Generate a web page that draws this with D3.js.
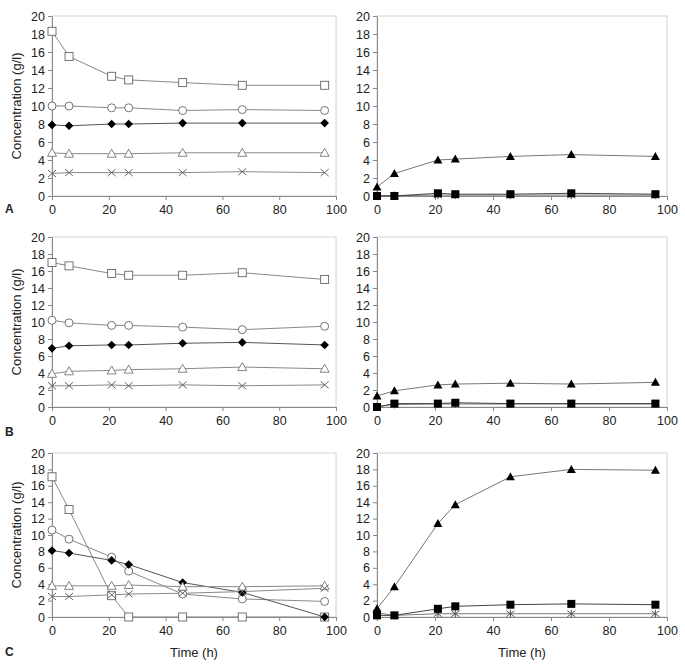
<!DOCTYPE html>
<html>
<head>
<meta charset="utf-8">
<script src="https://cdn.jsdelivr.net/npm/d3@7"></script>
<style>
  body { margin: 0; background: #fff; }
  text { font-family: "Liberation Sans", Arial, sans-serif; }
</style>
</head>
<body>
<svg id="chart" width="685" height="666"></svg>
<script>
// sampling times (h)
let times = [0, 6, 21, 27, 46, 67, 96];
let xTicks = [0, 20, 40, 60, 80, 100];
let yTicks = [0, 2, 4, 6, 8, 10, 12, 14, 16, 18, 20];

// panel A, left
let aSquare   = [18.3, 15.5, 13.3, 12.9, 12.6, 12.3, 12.3];
let aCircle   = [10.0, 10.0, 9.8, 9.8, 9.5, 9.6, 9.5];
let aDiamond  = [7.9, 7.8, 8.0, 8.0, 8.1, 8.1, 8.1];
let aTriangle = [4.8, 4.7, 4.7, 4.7, 4.8, 4.8, 4.8];
let aCross    = [2.5, 2.6, 2.6, 2.6, 2.6, 2.7, 2.6];
// panel A, right
let aFilledTri = [1.0, 2.5, 4.0, 4.1, 4.4, 4.6, 4.4];
let aFilledSq  = [0.0, 0.0, 0.3, 0.2, 0.2, 0.3, 0.2];
let aStar      = [0.05, 0.05, 0.1, 0.1, 0.1, 0.1, 0.1];

// panel B, left
let bSquare   = [17.0, 16.6, 15.7, 15.5, 15.5, 15.8, 15.0];
let bCircle   = [10.2, 9.9, 9.6, 9.6, 9.4, 9.1, 9.5];
let bDiamond  = [6.9, 7.2, 7.3, 7.3, 7.5, 7.6, 7.3];
let bTriangle = [3.9, 4.2, 4.3, 4.4, 4.5, 4.7, 4.5];
let bCross    = [2.5, 2.5, 2.6, 2.5, 2.6, 2.5, 2.6];
// panel B, right
let bFilledTri = [1.3, 1.9, 2.6, 2.7, 2.8, 2.7, 2.9];
let bFilledSq  = [0.0, 0.4, 0.4, 0.5, 0.4, 0.4, 0.4];
let bStar      = [0.05, 0.3, 0.35, 0.35, 0.35, 0.35, 0.35];

// panel C, left
let cSquare   = [17.1, 13.1, 2.6, 0.0, 0.0, 0.0, 0.0];
let cCircle   = [10.6, 9.5, 7.3, 5.6, 2.8, 2.2, 1.9];
let cDiamond  = [8.1, 7.8, 6.9, 6.4, 4.2, 3.0, 0.0];
let cTriangle = [3.8, 3.8, 3.8, 3.9, 3.7, 3.7, 3.8];
let cCross    = [2.5, 2.5, 2.7, 2.8, 2.9, 3.1, 3.5];
// panel C, right
let cFilledTri = [1.0, 3.7, 11.4, 13.7, 17.1, 18.0, 17.9];
let cFilledSq  = [0.2, 0.2, 1.0, 1.3, 1.5, 1.6, 1.5];
let cStar      = [0.5, 0.2, 0.4, 0.4, 0.4, 0.4, 0.4];

let svg = d3.select("#chart");

// marker drawers
function marker(g, type, x, y) {
    if (type == "square") {
        g.append("rect").attr("x", x-4).attr("y", y-4).attr("width", 8).attr("height", 8)
            .attr("fill", "#fff").attr("stroke", "#666").attr("stroke-width", 0.9);
    } else if (type == "circle") {
        g.append("circle").attr("cx", x).attr("cy", y).attr("r", 4)
            .attr("fill", "#fff").attr("stroke", "#666").attr("stroke-width", 0.9);
    } else if (type == "diamond") {
        g.append("path").attr("d", "M" + x + "," + (y-4.3) + "L" + (x+4.3) + "," + y + "L" + x + "," + (y+4.3) + "L" + (x-4.3) + "," + y + "Z")
            .attr("fill", "#000");
    } else if (type == "triangle") {
        g.append("path").attr("d", "M" + x + "," + (y-4.5) + "L" + (x+4.5) + "," + (y+3.5) + "L" + (x-4.5) + "," + (y+3.5) + "Z")
            .attr("fill", "#fff").attr("stroke", "#777").attr("stroke-width", 0.9);
    } else if (type == "cross") {
        g.append("path").attr("d", "M" + (x-4) + "," + (y-3.5) + "L" + (x+4) + "," + (y+3.5) + "M" + (x+4) + "," + (y-3.5) + "L" + (x-4) + "," + (y+3.5))
            .attr("stroke", "#666").attr("stroke-width", 1).attr("fill", "none");
    } else if (type == "filledTri") {
        g.append("path").attr("d", "M" + x + "," + (y-4.5) + "L" + (x+4.5) + "," + (y+3.5) + "L" + (x-4.5) + "," + (y+3.5) + "Z")
            .attr("fill", "#000");
    } else if (type == "filledSq") {
        g.append("rect").attr("x", x-4).attr("y", y-4).attr("width", 8).attr("height", 8)
            .attr("fill", "#000");
    } else if (type == "star") {
        g.append("path").attr("d", "M" + (x-4) + "," + (y-3) + "L" + (x+4) + "," + (y+3) + "M" + (x+4) + "," + (y-3) + "L" + (x-4) + "," + (y+3) + "M" + x + "," + (y-4) + "L" + x + "," + (y+4))
            .attr("stroke", "#555").attr("stroke-width", 1).attr("fill", "none");
    }
}

function drawPanel(p) {
    let x = d3.scaleLinear().domain([0, 100]).range([p.left, p.right]);
    let y = d3.scaleLinear().domain([0, 20]).range([p.bottom, p.top]);
    let g = svg.append("g");

    // plot frame
    g.append("rect").attr("x", p.left).attr("y", p.top)
        .attr("width", p.right - p.left).attr("height", p.bottom - p.top)
        .attr("fill", "none").attr("stroke", "#d4d4d4").attr("stroke-width", 1);

    let xAxis = g.append("g").attr("transform", "translate(0," + p.bottom + ")")
        .call(d3.axisBottom(x).tickValues(xTicks).tickSize(4).tickSizeOuter(0));
    let yAxis = g.append("g").attr("transform", "translate(" + p.left + ",0)")
        .call(d3.axisLeft(y).tickValues(yTicks).tickSize(4).tickSizeOuter(0));
    [xAxis, yAxis].forEach(a => {
        a.select(".domain").attr("stroke", "#888");
        a.selectAll(".tick line").attr("stroke", "#888");
        a.selectAll(".tick text").attr("font-size", 12.5).attr("fill", "#222")
            .attr("font-family", "Liberation Sans, Arial, sans-serif");
    });
    xAxis.selectAll(".tick text").attr("dy", "0.9em");

    let line = d3.line().x((d, i) => x(times[i])).y(d => y(d));
    p.series.forEach(s => {
        g.append("path").datum(s.values).attr("d", line)
            .attr("fill", "none").attr("stroke", s.stroke || "#777").attr("stroke-width", 1);
    });
    p.series.forEach(s => {
        s.values.forEach((v, i) => marker(g, s.type, x(times[i]), y(v)));
    });

    if (p.ylabel) {
        g.append("text")
            .attr("transform", "translate(" + (p.left - 31) + "," + ((p.top + p.bottom) / 2) + ") rotate(-90)")
            .attr("text-anchor", "middle").attr("font-size", 13).attr("fill", "#222")
            .text("Concentration (g/l)");
    }
    if (p.xlabel) {
        g.append("text").attr("x", (p.left + p.right) / 2).attr("y", p.bottom + 40)
            .attr("text-anchor", "middle").attr("font-size", 13).attr("fill", "#222")
            .text("Time (h)");
    }
}

let rows = [
    {top: 16, bottom: 196, letter: "A", ly: 213,
     left: [aSquare, aCircle, aDiamond, aTriangle, aCross],
     right: [aStar, aFilledSq, aFilledTri]},
    {top: 237, bottom: 407, letter: "B", ly: 436,
     left: [bSquare, bCircle, bDiamond, bTriangle, bCross],
     right: [bStar, bFilledSq, bFilledTri]},
    {top: 453, bottom: 617, letter: "C", ly: 656,
     left: [cSquare, cCircle, cDiamond, cTriangle, cCross],
     right: [cStar, cFilledSq, cFilledTri]}
];
let leftTypes = ["square", "circle", "diamond", "triangle", "cross"];
let rightTypes = ["star", "filledSq", "filledTri"];

rows.forEach((r, k) => {
    drawPanel({left: 52, right: 336, top: r.top, bottom: r.bottom, ylabel: true, xlabel: k == 2,
        series: r.left.map((v, i) => ({values: v, type: leftTypes[i], stroke: i == 2 ? "#555" : "#888"}))});
    drawPanel({left: 377, right: 667, top: r.top, bottom: r.bottom, ylabel: false, xlabel: k == 2,
        series: r.right.map((v, i) => ({values: v, type: rightTypes[i], stroke: i == 1 ? "#444" : "#777"}))});
    svg.append("text").attr("x", 5).attr("y", r.ly).attr("font-size", 12)
        .attr("font-weight", "bold").attr("fill", "#222").text(r.letter);
});
</script>
</body>
</html>
